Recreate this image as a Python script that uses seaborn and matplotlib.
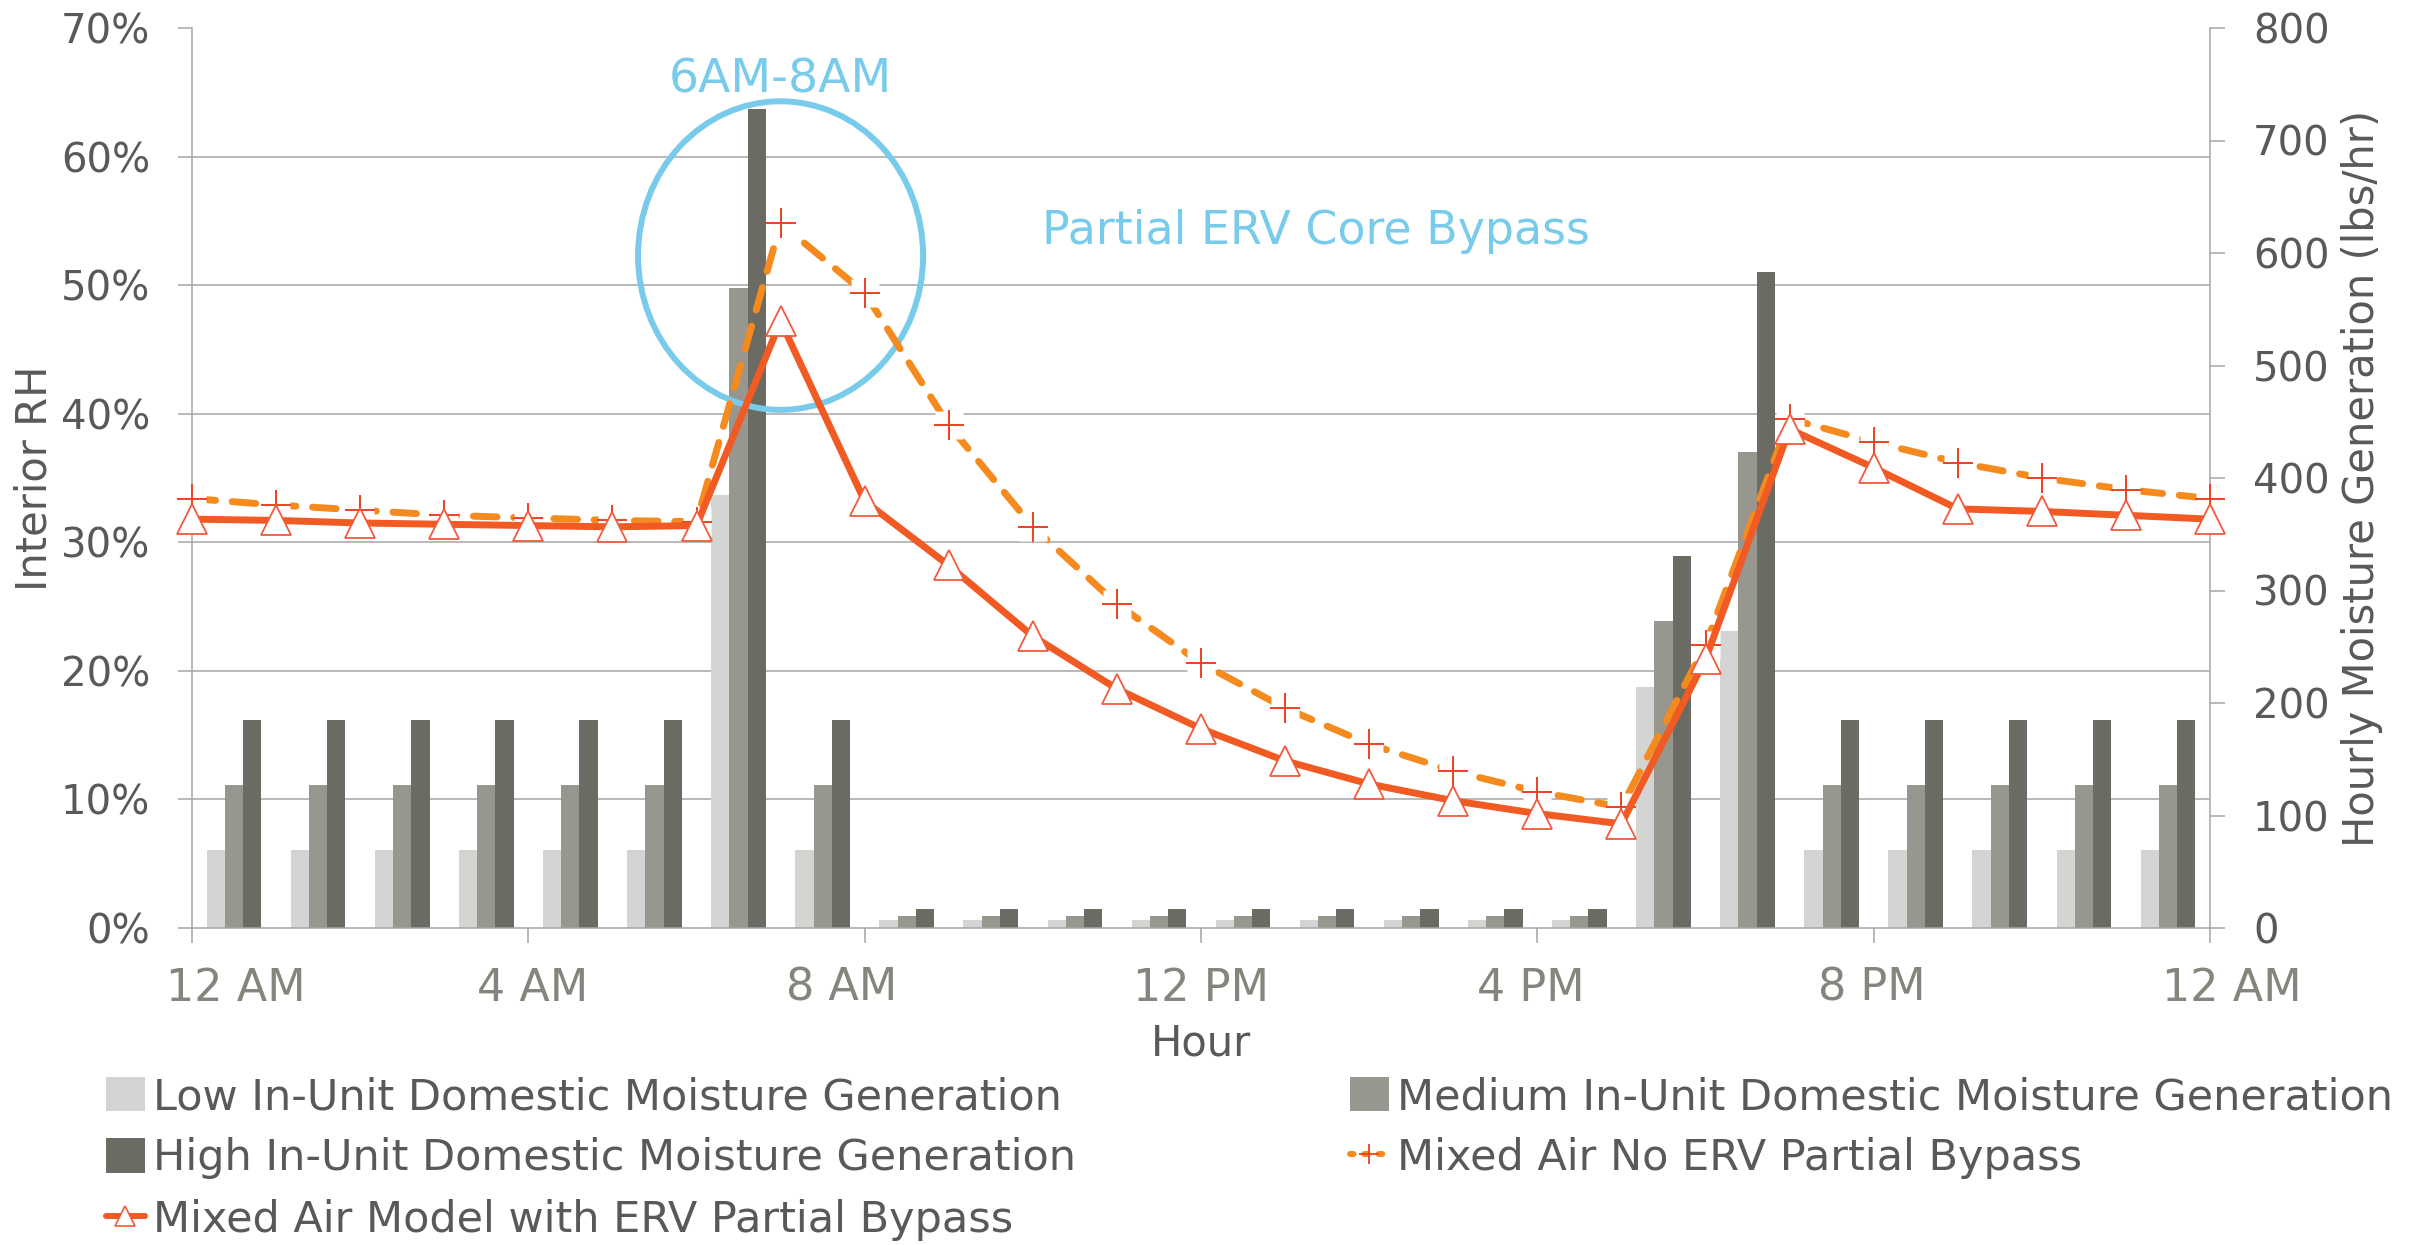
import numpy as np
import pandas as pd
import matplotlib
matplotlib.use("Agg")
import matplotlib.pyplot as plt
import matplotlib.transforms as mtransforms
from matplotlib.patches import Ellipse, Patch
from matplotlib.lines import Line2D
from matplotlib.ticker import FixedLocator, FuncFormatter
import seaborn as sns

# ---------------- data ----------------
bar_hours = [0, 1, 2, 3, 4, 5, 6, 7, 8, 9, 10, 11, 12, 13, 14, 15, 16, 17, 18, 19, 20, 21, 22, 23]
low_gen = [69, 69, 69, 69, 69, 69, 385, 69, 7, 7, 7, 7, 7, 7, 7, 7, 7, 214, 264, 69, 69, 69, 69, 69]
med_gen = [127, 127, 127, 127, 127, 127, 569, 127, 11, 11, 11, 11, 11, 11, 11, 11, 11, 273, 423, 127, 127, 127, 127, 127]
high_gen = [185, 185, 185, 185, 185, 185, 728, 185, 17, 17, 17, 17, 17, 17, 17, 17, 17, 331, 583, 185, 185, 185, 185, 185]

line_hours = [0, 1, 2, 3, 4, 5, 6, 7, 8, 9, 10, 11, 12, 13, 14, 15, 16, 17, 18, 19, 20, 21, 22, 23, 24]
rh_no_erv = [33.4, 32.9, 32.5, 32.1, 31.9, 31.7, 31.6, 54.8, 49.4, 39.1, 31.2, 25.2, 20.6, 17.1, 14.3,
             12.2, 10.6, 9.4, 22.0, 39.6, 37.8, 36.2, 35.0, 34.1, 33.4]
rh_erv = [31.8, 31.7, 31.5, 31.4, 31.3, 31.2, 31.3, 47.2, 33.2, 28.2, 22.7, 18.6, 15.5, 13.0, 11.2,
          9.9, 8.9, 8.1, 20.9, 38.8, 35.8, 32.6, 32.4, 32.1, 31.8]

bar_levels = ["Low In-Unit Domestic Moisture Generation",
              "Medium In-Unit Domestic Moisture Generation",
              "High In-Unit Domestic Moisture Generation"]
line_names = ["Mixed Air No ERV Partial Bypass", "Mixed Air Model with ERV Partial Bypass"]

x_tick_hours = [0, 4, 8, 12, 16, 20, 24]
x_tick_labels = ["12 AM", "4 AM", "8 AM", "12 PM", "4 PM", "8 PM", "12 AM"]
rh_ticks = [0, 10, 20, 30, 40, 50, 60, 70]
lbs_ticks = [0, 100, 200, 300, 400, 500, 600, 700, 800]

# ---------------- style ----------------
low_color, med_color, high_color = "#D4D5D3", "#97978F", "#6B6B63"
solid_color, dash_color = "#F15A22", "#F58A1F"
plus_color, tri_color = "#EE4023", "#F15A3C"
blue = "#79CBEC"
grid_color = "#A5A5A5"
text_color = "#595959"
xtick_color = "#85857D"
line_w = 5.0

sns.set_style("white")
plt.rcParams["font.family"] = ["DejaVu Sans"]

W, H = 2425, 1245
fig = plt.figure(figsize=(W / 100, H / 100), dpi=100)
ax_bar = fig.add_axes([192 / W, (H - 928) / H, 2018 / W, 900 / H])
ax_line = ax_bar.twinx()

# ---------------- bars ----------------
df_bars = pd.DataFrame({
    "center": [h + 0.5 for h in bar_hours] * 3,
    "lbs": low_gen + med_gen + high_gen,
    "level": [bar_levels[0]] * len(bar_hours) + [bar_levels[1]] * len(bar_hours) + [bar_levels[2]] * len(bar_hours),
})
sns.barplot(data=df_bars, x="center", y="lbs", hue="level", hue_order=bar_levels,
            palette=[low_color, med_color, high_color], native_scale=True, width=0.65,
            dodge=True, errorbar=None, saturation=1, linewidth=0, legend=False,
            ax=ax_bar, zorder=2)
ax_bar.set_xlim(0, 24)
ax_bar.set_ylim(0, 800)

# ---------------- lines ----------------
sns.lineplot(x=line_hours, y=rh_no_erv, ax=ax_line, color=dash_color, linewidth=line_w,
             zorder=3, legend=False)
ln = ax_line.lines[-1]
ln.set_dashes([3.4, 2.4])
ln.set_dash_capstyle("round")
ln.set_clip_on(False)
ax_line.plot(line_hours, rh_no_erv, ls="none", marker="s", ms=20, mfc="white", mec="none",
             zorder=3.1, clip_on=False)
ax_line.plot(line_hours, rh_no_erv, ls="none", marker="+", ms=22, mec=plus_color, mew=1.4,
             zorder=3.2, clip_on=False)
sns.lineplot(x=line_hours, y=rh_erv, ax=ax_line, color=solid_color, linewidth=line_w,
             zorder=3.3, legend=False)
ax_line.lines[-1].set_clip_on(False)
ax_line.lines[-1].set_solid_capstyle("round")
ax_line.lines[-1].set_solid_joinstyle("round")
ax_line.plot(line_hours, rh_erv, ls="none", marker="^", ms=21, mfc="white", mec=tri_color,
             mew=1.3, zorder=3.4, clip_on=False)
ax_line.set_xlim(0, 24)
ax_line.set_ylim(0, 70)

# annotation circle and texts
ax_line.add_patch(Ellipse((7.0, 52.3), 3.39, 24.0, fill=False, ec=blue, lw=4.3, zorder=2.5))
ax_line.text(7.0, 65.0, "6AM-8AM", color=blue, fontsize=34, ha="center", va="baseline")
ax_line.text(10.11, 53.2, "Partial ERV Core Bypass", color=blue, fontsize=33, ha="left", va="baseline")

# ---------------- axes styling ----------------
# left (RH) axis
ax_line.yaxis.tick_left()
ax_line.yaxis.set_label_position("left")
ax_line.set_yticks(rh_ticks)
ax_line.yaxis.set_major_formatter(FuncFormatter(lambda v, p: f"{v:.0f}%"))
ax_line.tick_params(axis="y", which="major", direction="out", length=10, width=1.1,
                    color=grid_color, pad=20, labelsize=29, labelcolor=text_color)
ax_line.set_ylabel("Interior RH", fontsize=30, color=text_color)
ax_line.yaxis.label.set_va("center")
ax_line.yaxis.set_label_coords(-0.0778, 0.5)
ax_line.grid(False)
for s in ax_line.spines.values():
    s.set_visible(False)

# right (lbs/hr) axis
ax_bar.yaxis.tick_right()
ax_bar.yaxis.set_label_position("right")
ax_bar.set_yticks(lbs_ticks)
ax_bar.tick_params(axis="y", which="major", direction="out", length=11, width=1.1,
                   color=grid_color, pad=20, labelsize=29, labelcolor=text_color)
ax_bar.set_ylabel("Hourly Moisture Generation (lbs/hr)", fontsize=30, color=text_color)
ax_bar.yaxis.label.set_va("center")
ax_bar.yaxis.set_label_coords(1.0753, 0.5)

# gridlines at RH steps, drawn beneath the bars
ax_bar.yaxis.set_minor_locator(FixedLocator([t * 800 / 70 for t in rh_ticks]))
ax_bar.tick_params(axis="y", which="minor", length=0)
ax_bar.grid(False)
ax_bar.grid(True, which="minor", axis="y", color=grid_color, lw=1.1)
ax_bar.set_axisbelow(True)

# x axis
ax_bar.set_xticks(x_tick_hours)
ax_bar.set_xticklabels(x_tick_labels)
ax_bar.xaxis.set_minor_locator(FixedLocator([]))
ax_bar.tick_params(axis="x", which="major", direction="out", length=11, width=1.1,
                   color=grid_color, pad=17, labelsize=32, labelcolor=xtick_color, bottom=True)
label_shift_px = [44, 4, -23, 0, -7, -2, 22]
for tick, dx in zip(ax_bar.xaxis.get_major_ticks(), label_shift_px):
    tick.label1.set_transform(tick.label1.get_transform()
                              + mtransforms.ScaledTranslation(dx / 100, 0, fig.dpi_scale_trans))
ax_bar.set_xlabel("Hour", fontsize=30, color=text_color)
ax_bar.xaxis.label.set_va("center")
ax_bar.xaxis.set_label_coords(0.5, -0.128)

ax_bar.spines["top"].set_visible(False)
for side in ["left", "right", "bottom"]:
    ax_bar.spines[side].set_color(grid_color)
    ax_bar.spines[side].set_linewidth(1.1)

# ---------------- legend ----------------
h_low = Patch(facecolor=low_color, edgecolor="none")
h_med = Patch(facecolor=med_color, edgecolor="none")
h_high = Patch(facecolor=high_color, edgecolor="none")
h_noerv = Line2D([], [], color=dash_color, lw=4.3, linestyle=(0, (0.6, 1.8)),
                 dash_capstyle="round", marker="+", ms=15, mec=plus_color, mew=1.3)
h_erv = Line2D([], [], color=solid_color, lw=4.3, marker="^", ms=15, mfc="white",
               mec=tri_color, mew=1.2)

leg_kw = dict(loc="upper left", frameon=False, borderpad=0, borderaxespad=0,
              handlelength=0.9, handleheight=0.85, handletextpad=0.2, labelspacing=0.45,
              fontsize=31, labelcolor=text_color)
fig.legend([h_low, h_high, h_erv], [bar_levels[0], bar_levels[2], line_names[1]],
           bbox_to_anchor=(106 / W, 1 - 1076 / H), **leg_kw)
fig.legend([h_med, h_noerv], [bar_levels[1], line_names[0]],
           bbox_to_anchor=(1350 / W, 1 - 1076 / H), **leg_kw)

fig.savefig("out.png", dpi=100)
